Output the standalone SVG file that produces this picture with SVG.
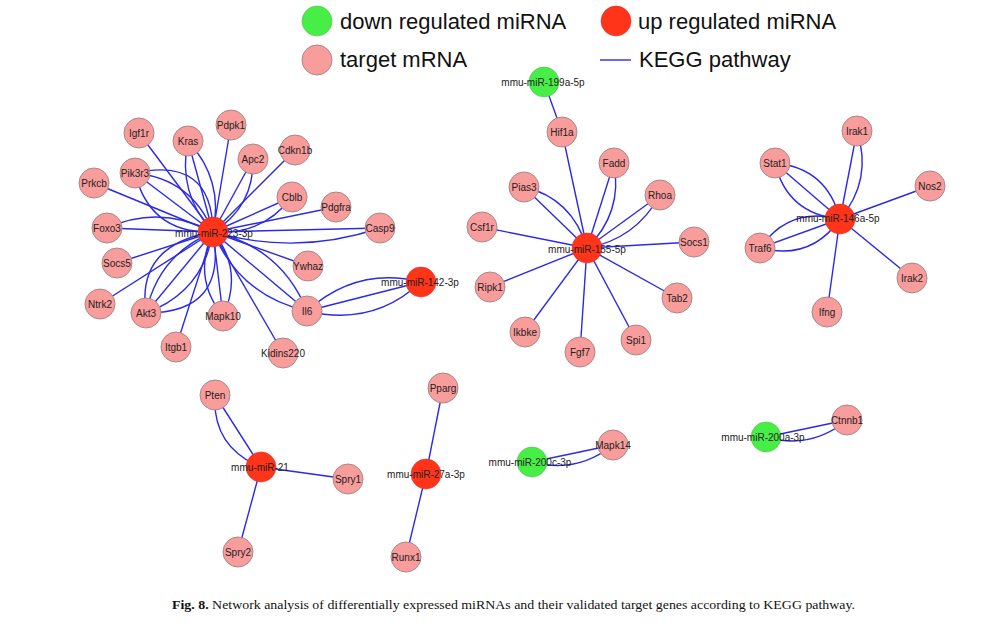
<svg xmlns="http://www.w3.org/2000/svg" width="1004" height="632" viewBox="0 0 1004 632">
<style>
.e{fill:none;stroke:#2a2ae8;stroke-width:1.4}
.t{fill:#f99c9c;stroke:#a88;stroke-width:1}
.up{fill:#ff3419;stroke:#d33;stroke-width:0.6}
.dn{fill:#46ee46;stroke:#5b5;stroke-width:0.6}
.l{font-family:"Liberation Sans",Arial,sans-serif;font-size:10px;fill:#222;text-anchor:middle;dominant-baseline:central}
.lg{font-family:"Liberation Sans",Arial,sans-serif;font-size:22px;fill:#111}
.cap{font-family:"Liberation Serif","Times New Roman",serif;font-size:13px;fill:#111}
</style>
<rect width="1004" height="632" fill="#fff"/>
<g id="legend">
<circle cx="317" cy="21" r="15" class="dn" stroke="none"/>
<text x="340" y="29" class="lg">down regulated miRNA</text>
<circle cx="616" cy="21" r="15" class="up" stroke="none"/>
<text x="638" y="29" class="lg">up regulated miRNA</text>
<circle cx="317" cy="60" r="15" class="t" stroke="none"/>
<text x="340" y="67" class="lg">target mRNA</text>
<line x1="600" y1="60" x2="631" y2="60" class="e"/>
<text x="639" y="67" class="lg">KEGG pathway</text>
</g>
<g id="connectors">
<path class="e" d="M139,133 L213,232"/>
<path class="e" d="M188,141 L213,232"/>
<path class="e" d="M188,141 Q224,180 213,232"/>
<path class="e" d="M188,141 Q177,193 213,232"/>
<path class="e" d="M231,125 L213,232"/>
<path class="e" d="M253,159 L213,232"/>
<path class="e" d="M253,159 Q254,207 213,232"/>
<path class="e" d="M295,150 L213,232"/>
<path class="e" d="M135,173 L213,232"/>
<path class="e" d="M135,173 Q192,179 213,232"/>
<path class="e" d="M135,173 Q212,156 213,232"/>
<path class="e" d="M135,173 Q150,234 213,232"/>
<path class="e" d="M94,183 L213,232"/>
<path class="e" d="M292,197 L213,232"/>
<path class="e" d="M292,197 Q262,236 213,232"/>
<path class="e" d="M336,207 L213,232"/>
<path class="e" d="M107,228 L213,232"/>
<path class="e" d="M107,228 Q160,204 213,232"/>
<path class="e" d="M380,228 L213,232"/>
<path class="e" d="M380,228 Q297,256 213,232"/>
<path class="e" d="M117,263 L213,232"/>
<path class="e" d="M308,266 L213,232"/>
<path class="e" d="M100,304 L213,232"/>
<path class="e" d="M146,313 L213,232"/>
<path class="e" d="M146,313 Q158,255 213,232"/>
<path class="e" d="M146,313 Q136,245 213,232"/>
<path class="e" d="M146,313 Q203,292 213,232"/>
<path class="e" d="M146,313 Q228,313 213,232"/>
<path class="e" d="M223,316 L213,232"/>
<path class="e" d="M223,316 Q244,270 213,232"/>
<path class="e" d="M223,316 Q192,278 213,232"/>
<path class="e" d="M307,311 L213,232"/>
<path class="e" d="M307,311 Q281,247 213,232"/>
<path class="e" d="M307,311 Q240,296 213,232"/>
<path class="e" d="M176,347 L213,232"/>
<path class="e" d="M283,353 L213,232"/>
<path class="e" d="M307,311 L421,282"/>
<path class="e" d="M307,311 Q357,266 421,282"/>
<path class="e" d="M307,311 Q373,327 421,282"/>
<path class="e" d="M544,82 L562,132"/>
<path class="e" d="M562,132 L587,248"/>
<path class="e" d="M614,163 L587,248"/>
<path class="e" d="M614,163 Q623,213 587,248"/>
<path class="e" d="M524,187 L587,248"/>
<path class="e" d="M524,187 Q572,198 587,248"/>
<path class="e" d="M660,195 L587,248"/>
<path class="e" d="M660,195 Q636,239 587,248"/>
<path class="e" d="M482,227 L587,248"/>
<path class="e" d="M694,242 L587,248"/>
<path class="e" d="M490,287 L587,248"/>
<path class="e" d="M677,298 L587,248"/>
<path class="e" d="M525,332 L587,248"/>
<path class="e" d="M636,340 L587,248"/>
<path class="e" d="M580,352 L587,248"/>
<path class="e" d="M857,131 L840,219"/>
<path class="e" d="M857,131 Q873,180 840,219"/>
<path class="e" d="M775,163 L840,219"/>
<path class="e" d="M775,163 Q827,168 840,219"/>
<path class="e" d="M775,163 Q787,214 840,219"/>
<path class="e" d="M930,186 L840,219"/>
<path class="e" d="M760,248 L840,219"/>
<path class="e" d="M760,248 Q789,206 840,219"/>
<path class="e" d="M760,248 Q811,261 840,219"/>
<path class="e" d="M912,278 L840,219"/>
<path class="e" d="M827,312 L840,219"/>
<path class="e" d="M215,395 L261,467"/>
<path class="e" d="M215,395 Q212,447 261,467"/>
<path class="e" d="M348,479 L261,467"/>
<path class="e" d="M238,552 L261,467"/>
<path class="e" d="M443,388 L426,474"/>
<path class="e" d="M406,557 L426,474"/>
<path class="e" d="M532,462 L613,445"/>
<path class="e" d="M532,462 Q577,474 613,445"/>
<path class="e" d="M766,437 L847,420"/>
<path class="e" d="M766,437 Q811,450 847,420"/>
</g>
<g id="n-Igf1r"><circle cx="139" cy="133" r="15" class="t"/><text x="139" y="133" class="l">Igf1r</text></g>
<g id="n-Kras"><circle cx="188" cy="141" r="15" class="t"/><text x="188" y="141" class="l">Kras</text></g>
<g id="n-Pdpk1"><circle cx="231" cy="125" r="15" class="t"/><text x="231" y="125" class="l">Pdpk1</text></g>
<g id="n-Apc2"><circle cx="253" cy="159" r="15" class="t"/><text x="253" y="159" class="l">Apc2</text></g>
<g id="n-Cdkn1b"><circle cx="295" cy="150" r="15" class="t"/><text x="295" y="150" class="l">Cdkn1b</text></g>
<g id="n-Pik3r3"><circle cx="135" cy="173" r="15" class="t"/><text x="135" y="173" class="l">Pik3r3</text></g>
<g id="n-Prkcb"><circle cx="94" cy="183" r="15" class="t"/><text x="94" y="183" class="l">Prkcb</text></g>
<g id="n-Cblb"><circle cx="292" cy="197" r="15" class="t"/><text x="292" y="197" class="l">Cblb</text></g>
<g id="n-Pdgfra"><circle cx="336" cy="207" r="15" class="t"/><text x="336" y="207" class="l">Pdgfra</text></g>
<g id="n-Foxo3"><circle cx="107" cy="228" r="15" class="t"/><text x="107" y="228" class="l">Foxo3</text></g>
<g id="n-Casp9"><circle cx="380" cy="228" r="15" class="t"/><text x="380" y="228" class="l">Casp9</text></g>
<g id="n-Socs5"><circle cx="117" cy="263" r="15" class="t"/><text x="117" y="263" class="l">Socs5</text></g>
<g id="n-Ywhaz"><circle cx="308" cy="266" r="15" class="t"/><text x="308" y="266" class="l">Ywhaz</text></g>
<g id="n-Ntrk2"><circle cx="100" cy="304" r="15" class="t"/><text x="100" y="304" class="l">Ntrk2</text></g>
<g id="n-Akt3"><circle cx="146" cy="313" r="15" class="t"/><text x="146" y="313" class="l">Akt3</text></g>
<g id="n-Mapk10"><circle cx="223" cy="316" r="15" class="t"/><text x="223" y="316" class="l">Mapk10</text></g>
<g id="n-Il6"><circle cx="307" cy="311" r="15" class="t"/><text x="307" y="311" class="l">Il6</text></g>
<g id="n-Itgb1"><circle cx="176" cy="347" r="15" class="t"/><text x="176" y="347" class="l">Itgb1</text></g>
<g id="n-Kidins220"><circle cx="283" cy="353" r="15" class="t"/><text x="283" y="353" class="l">Kidins220</text></g>
<g id="n-miR-223-3p"><circle cx="213" cy="232" r="15" class="up"/><text x="214" y="233" class="l">mmu-miR-223-3p</text></g>
<g id="n-miR-142-3p"><circle cx="421" cy="282" r="15" class="up"/><text x="420" y="282" class="l">mmu-miR-142-3p</text></g>
<g id="n-miR-199a-5p"><circle cx="544" cy="82" r="15" class="dn"/><text x="543" y="82" class="l">mmu-miR-199a-5p</text></g>
<g id="n-Hif1a"><circle cx="562" cy="132" r="15" class="t"/><text x="562" y="132" class="l">Hif1a</text></g>
<g id="n-Fadd"><circle cx="614" cy="163" r="15" class="t"/><text x="614" y="163" class="l">Fadd</text></g>
<g id="n-Pias3"><circle cx="524" cy="187" r="15" class="t"/><text x="524" y="187" class="l">Pias3</text></g>
<g id="n-Rhoa"><circle cx="660" cy="195" r="15" class="t"/><text x="660" y="195" class="l">Rhoa</text></g>
<g id="n-Csf1r"><circle cx="482" cy="227" r="15" class="t"/><text x="482" y="227" class="l">Csf1r</text></g>
<g id="n-Socs1"><circle cx="694" cy="242" r="15" class="t"/><text x="694" y="242" class="l">Socs1</text></g>
<g id="n-Ripk1"><circle cx="490" cy="287" r="15" class="t"/><text x="490" y="287" class="l">Ripk1</text></g>
<g id="n-Tab2"><circle cx="677" cy="298" r="15" class="t"/><text x="677" y="298" class="l">Tab2</text></g>
<g id="n-Ikbke"><circle cx="525" cy="332" r="15" class="t"/><text x="525" y="332" class="l">Ikbke</text></g>
<g id="n-Spi1"><circle cx="636" cy="340" r="15" class="t"/><text x="636" y="340" class="l">Spi1</text></g>
<g id="n-Fgf7"><circle cx="580" cy="352" r="15" class="t"/><text x="580" y="352" class="l">Fgf7</text></g>
<g id="n-miR-155-5p"><circle cx="587" cy="248" r="15" class="up"/><text x="587" y="249" class="l">mmu-miR-155-5p</text></g>
<g id="n-Irak1"><circle cx="857" cy="131" r="15" class="t"/><text x="857" y="131" class="l">Irak1</text></g>
<g id="n-Stat1"><circle cx="775" cy="163" r="15" class="t"/><text x="775" y="163" class="l">Stat1</text></g>
<g id="n-Nos2"><circle cx="930" cy="186" r="15" class="t"/><text x="930" y="186" class="l">Nos2</text></g>
<g id="n-Traf6"><circle cx="760" cy="248" r="15" class="t"/><text x="760" y="248" class="l">Traf6</text></g>
<g id="n-Irak2"><circle cx="912" cy="278" r="15" class="t"/><text x="912" y="278" class="l">Irak2</text></g>
<g id="n-Ifng"><circle cx="827" cy="312" r="15" class="t"/><text x="827" y="312" class="l">Ifng</text></g>
<g id="n-miR-146a-5p"><circle cx="840" cy="219" r="15" class="up"/><text x="838" y="218" class="l">mmu-miR-146a-5p</text></g>
<g id="n-Pten"><circle cx="215" cy="395" r="15" class="t"/><text x="215" y="395" class="l">Pten</text></g>
<g id="n-Spry1"><circle cx="348" cy="479" r="15" class="t"/><text x="348" y="479" class="l">Spry1</text></g>
<g id="n-Spry2"><circle cx="238" cy="552" r="15" class="t"/><text x="238" y="552" class="l">Spry2</text></g>
<g id="n-miR-21"><circle cx="261" cy="467" r="15" class="up"/><text x="260" y="467" class="l">mmu-miR-21</text></g>
<g id="n-Pparg"><circle cx="443" cy="388" r="15" class="t"/><text x="443" y="388" class="l">Pparg</text></g>
<g id="n-Runx1"><circle cx="406" cy="557" r="15" class="t"/><text x="406" y="557" class="l">Runx1</text></g>
<g id="n-miR-27a-3p"><circle cx="426" cy="474" r="15" class="up"/><text x="426" y="474" class="l">mmu-miR-27a-3p</text></g>
<g id="n-Mapk14"><circle cx="613" cy="445" r="15" class="t"/><text x="613" y="445" class="l">Mapk14</text></g>
<g id="n-miR-200c-3p"><circle cx="532" cy="462" r="15" class="dn"/><text x="530" y="462" class="l">mmu-miR-200c-3p</text></g>
<g id="n-Ctnnb1"><circle cx="847" cy="420" r="15" class="t"/><text x="847" y="420" class="l">Ctnnb1</text></g>
<g id="n-miR-200a-3p"><circle cx="766" cy="437" r="15" class="dn"/><text x="763" y="437" class="l">mmu-miR-200a-3p</text></g>
<text x="172" y="609" class="cap" textLength="683" lengthAdjust="spacingAndGlyphs"><tspan font-weight="bold">Fig. 8.</tspan> Network analysis of differentially expressed miRNAs and their validated target genes according to KEGG pathway.</text>
</svg>
